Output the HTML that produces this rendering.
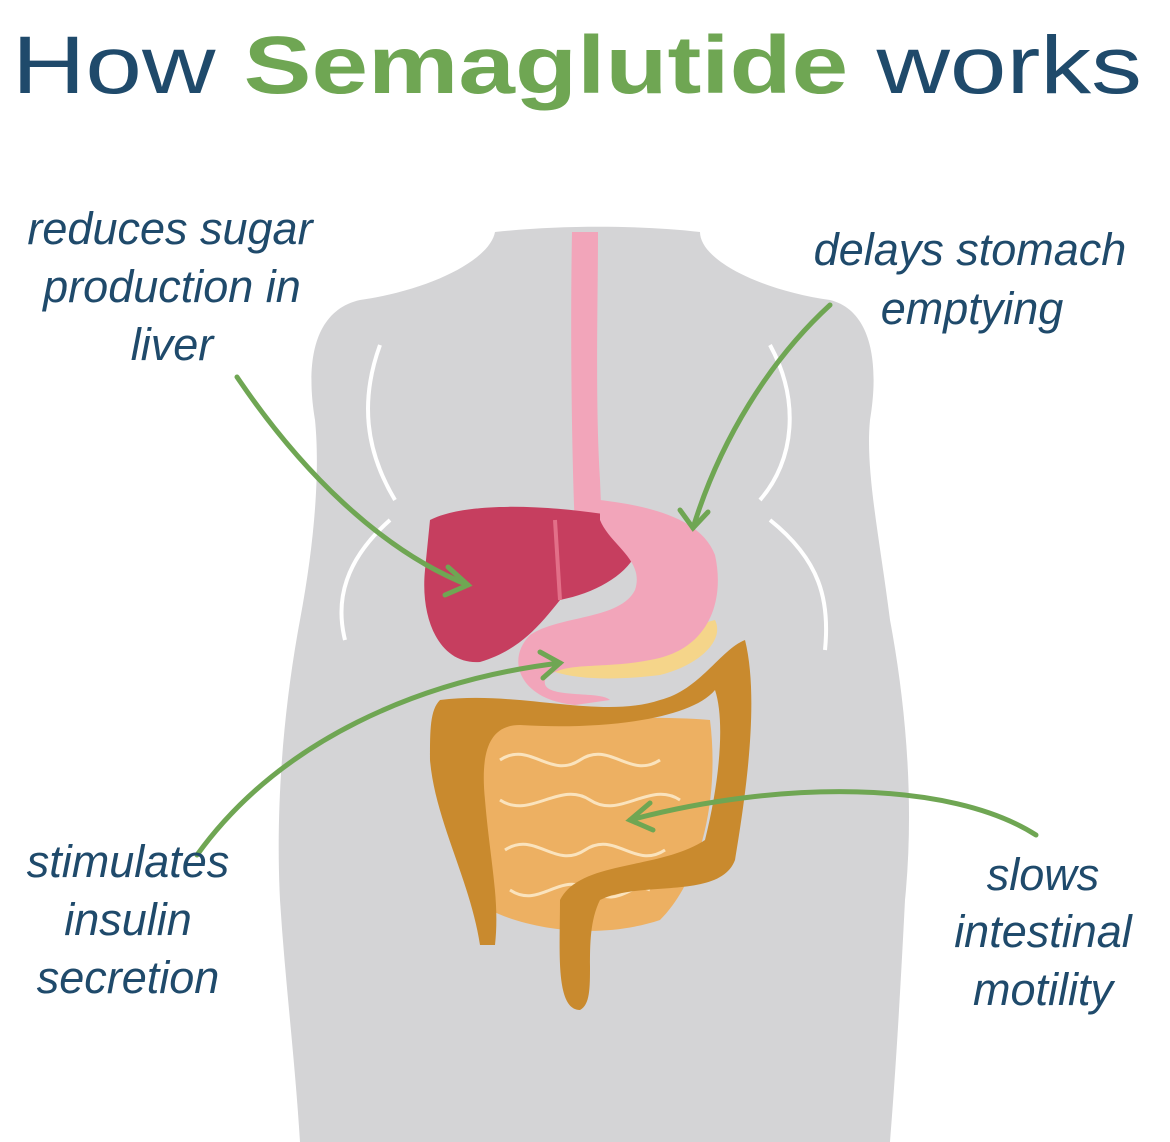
<!DOCTYPE html>
<html><head><meta charset="utf-8"><style>
html,body{margin:0;padding:0;background:#fff;width:1170px;height:1142px;overflow:hidden}
svg{display:block}
.l{font-family:"Liberation Sans",sans-serif;font-style:italic;font-size:45px;fill:#1f4a6b}
</style></head><body>
<svg width="1170" height="1142" viewBox="0 0 1170 1142">
<text x="12" y="93" font-family="Liberation Sans,sans-serif" font-size="82" fill="#1f4a6b" textLength="1130" lengthAdjust="spacingAndGlyphs">How <tspan fill="#6fa653" font-weight="bold">Semaglutide</tspan> works</text>
<!-- body silhouette -->
<path d="M495,232 C560,225 640,225 700,232 C700,260 760,290 830,300 C870,310 880,360 870,420 C865,470 880,540 890,620 C905,700 915,800 905,900 C900,1000 895,1080 890,1142 L300,1142 C295,1060 285,980 280,900 C275,800 285,700 300,620 C315,540 320,470 315,420 C305,360 315,310 360,300 C430,290 490,260 495,232 Z" fill="#d4d4d6"/>
<path d="M380,345 C360,400 365,450 395,500 M390,520 C345,560 335,600 345,640" stroke="#fff" stroke-width="4" fill="none"/>
<path d="M770,345 C800,400 795,460 760,500 M770,520 C820,560 830,600 825,650" stroke="#fff" stroke-width="4" fill="none"/>
<!-- esophagus -->
<path d="M572,232 L598,232 C598,300 595,400 600,480 L602,530 L575,530 C572,460 570,340 572,232 Z" fill="#f2a5ba"/>
<!-- liver -->
<path d="M430,520 C470,500 560,505 640,520 C650,560 610,590 560,600 C540,625 520,650 480,662 C440,665 420,620 425,570 Z" fill="#c63e5f"/>
<path d="M555,520 L560,600" stroke="#e26f88" stroke-width="4"/>
<!-- pancreas -->
<path d="M555,655 C600,640 660,635 715,620 C725,640 700,665 660,675 C620,680 580,680 555,672 Z" fill="#f5d58a"/>
<!-- stomach -->
<path d="M600,500 C640,505 700,515 715,555 C725,600 710,650 650,660 C600,670 560,660 545,680 C540,700 600,690 610,700 L575,705 C520,700 505,660 530,635 C560,615 620,620 635,590 C645,560 610,545 600,520 Z" fill="#f2a5ba"/>
<!-- small intestine -->
<path d="M480,720 C560,720 650,715 710,720 C720,800 700,880 660,920 C600,940 530,930 490,910 C480,850 475,780 480,720 Z" fill="#edb062"/>
<path d="M500,760 c30,-20 50,20 80,0 c30,-20 50,20 80,0 M500,800 c30,20 60,-20 90,0 c30,20 60,-20 90,0 M505,850 c30,-20 50,20 80,0 c30,-20 50,20 80,0 M510,890 c30,20 50,-20 80,0 c30,20 40,-10 60,0" stroke="#fae3bd" stroke-width="3" fill="none"/>
<!-- colon -->
<path d="M440,700 C520,690 600,720 660,700 C700,690 720,650 745,640 C760,700 745,800 735,860 C720,900 640,880 600,900 C580,940 600,1000 580,1010 C555,1010 560,950 560,900 C580,860 660,870 705,840 C720,780 725,720 715,690 C690,720 600,730 520,725 C490,725 480,750 485,800 C490,860 500,900 495,945 L480,945 C470,880 435,820 430,760 C430,730 430,710 440,700 Z" fill="#c98a2e"/>
<!-- arrows -->
<g stroke="#6fa653" stroke-width="5" fill="none" stroke-linecap="round">
<path d="M237,377 C300,470 380,550 468,585"/><path d="M448,567 L468,585 L445,595"/>
<path d="M830,305 C770,360 720,440 693,528"/><path d="M680,510 L693,528 L708,512"/>
<path d="M197,855 C280,740 420,680 560,663"/><path d="M540,652 L560,663 L543,678"/>
<path d="M1036,835 C950,780 780,780 630,820"/><path d="M650,803 L630,820 L653,830"/>
</g>
<g class="l">
<text x="170" y="244" text-anchor="middle">reduces sugar</text>
<text x="172" y="302" text-anchor="middle">production in</text>
<text x="172" y="360" text-anchor="middle">liver</text>
<text x="970" y="265" text-anchor="middle">delays stomach</text>
<text x="972" y="324" text-anchor="middle">emptying</text>
<text x="128" y="877" text-anchor="middle">stimulates</text>
<text x="128" y="935" text-anchor="middle">insulin</text>
<text x="128" y="993" text-anchor="middle">secretion</text>
<text x="1043" y="890" text-anchor="middle">slows</text>
<text x="1043" y="947" text-anchor="middle">intestinal</text>
<text x="1043" y="1005" text-anchor="middle">motility</text>
</g>
</svg>
</body></html>
